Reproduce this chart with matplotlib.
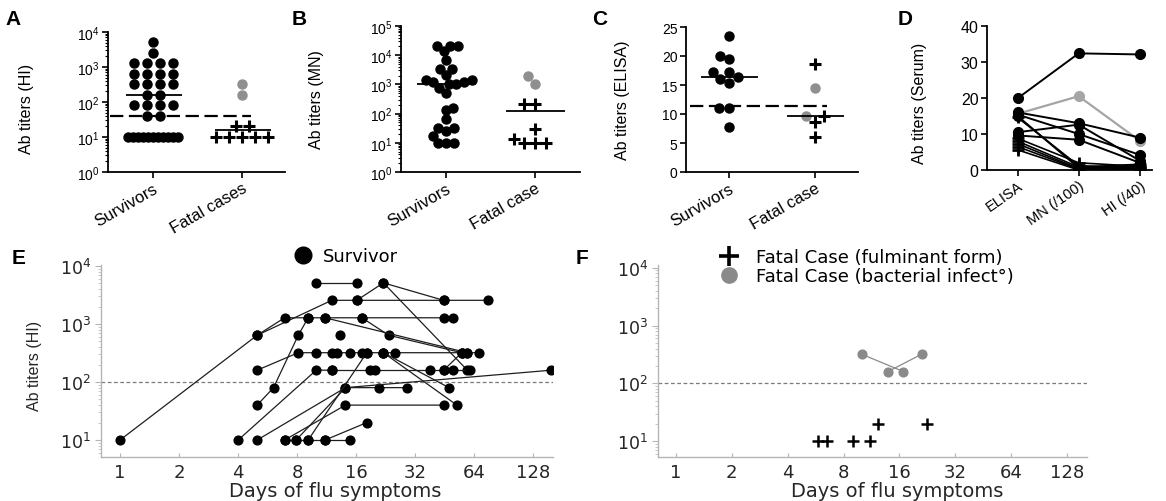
import numpy as np
import matplotlib
matplotlib.use("Agg")
import matplotlib.pyplot as plt
from matplotlib.ticker import LogLocator, LogFormatterMathtext, NullFormatter, NullLocator, FixedLocator
from matplotlib.lines import Line2D

# ---------------- data ----------------
# Panel A: HI titers
a_categories = ["Survivors", "Fatal cases"]
a_survivors = [5120, 2560, 1280, 1280, 1280, 1280, 640, 640, 640, 640, 320, 320, 320, 320,
               160, 160, 80, 80, 80, 80, 40, 40, 10, 10, 10, 10, 10, 10, 10, 10, 10, 10, 10]
a_fatal_bact = [320, 160]
a_fatal_fulm = [20, 20, 10, 10, 10, 10, 10]
a_medians = [160, 16]
a_threshold = 40

# Panel B: MN titers
b_categories = ["Survivors", "Fatal case"]
b_survivors = [20480, 20480, 20480, 14000, 7100, 3400, 3400, 2100, 1400, 1400, 1200, 1200,
               1000, 1000, 760, 510, 160, 130, 64, 31, 31, 25, 17, 10, 10, 10]
b_fatal_bact = [2000, 1000]
b_fatal_fulm = [210, 210, 29, 14, 10, 10, 10]
b_medians = [1000, 120]

# Panel C: ELISA titers
c_categories = ["Survivors", "Fatal case"]
c_survivors = [23.5, 20.0, 19.4, 17.3, 17.3, 16.3, 16.0, 15.4, 11.0, 11.0, 7.7]
c_fatal_bact = [14.4, 9.7]
c_fatal_fulm = [18.6, 9.7, 8.6, 6.0]
c_medians = [16.3, 9.7]
c_threshold = 11.3

# Panel D: serum titers per subject (ELISA, MN/100, HI/40)
d_categories = ["ELISA", "MN (/100)", "HI (/40)"]
d_elisa = [19.9, 15.6, 16.0, 15.4, 15.0, 14.6, 10.5, 9.6, 8.8, 8.0, 7.3, 6.5, 5.6]
d_mn    = [32.4, 20.5, 13.0, 10.0, 0.6, 1.2, 12.6, 8.4, 2.0, 0.8, 0.4, 0.2, 0.0]
d_hi    = [32.1, 8.1, 9.0, 4.2, 1.2, 0.6, 2.6, 2.0, 1.0, 1.6, 0.8, 0.4, 0.2]
d_group = ["s", "g", "s", "s", "s", "f", "s", "s", "f", "f", "f", "f", "f"]

# Panel E: survivors, HI titer vs days of flu symptoms (one list per patient)
e_days = [
    [1, 5, 12, 16.1, 44.6, 75.5],
    [10, 16.1],
    [16.1, 22, 44.6],
    [22, 58.9],
    [5, 6.9, 9.1, 11.1, 17.1, 44.6, 50],
    [17.1, 23.4, 55.2],
    [11.1, 58.9],
    [5, 6.06, 8.1, 9.1],
    [5, 8.1, 10, 12, 12.7, 14.9, 17.1, 18.1, 22, 25.3, 55.2, 58.9, 67.3],
    [13.2],
    [4, 10, 12],
    [12, 18.9, 20, 38.2, 44.6, 61.1],
    [44.6, 55.2],
    [50],
    [5, 14.1, 20.8, 29.1],
    [7.9, 14.1, 158],
    [22, 47.5],
    [22, 52.1],
    [6.9, 14.1, 44.6],
    [6.9, 7.9, 9.1, 11.1, 14.9],
    [11.1, 18.1],
    [9.1, 18.1],
]
e_titers = [
    [10, 640, 2560, 2560, 2560, 2560],
    [5120, 5120],
    [2560, 5120, 2560],
    [5120, 160],
    [640, 1280, 1280, 1280, 1280, 1280, 1280],
    [1280, 640, 320],
    [1280, 320],
    [40, 80, 640, 1280],
    [160, 320, 320, 320, 320, 320, 320, 320, 320, 320, 320, 320, 320],
    [640],
    [10, 160, 160],
    [160, 160, 160, 160, 160, 160],
    [160, 320],
    [160],
    [10, 80, 80, 80],
    [10, 80, 160],
    [320, 80],
    [320, 40],
    [10, 40, 40],
    [10, 10, 10, 10, 10],
    [10, 20],
    [10, 320],
]

# Panel F: fatal cases
f_fulm_days = [5.8, 6.5, 9.0, 11.1, 12.3, 22.5]
f_fulm_titers = [10, 10, 10, 10, 20, 20]
f_bact_days = [[10.0, 16.8], [13.9, 21.1]]
f_bact_titers = [[320, 160], [160, 320]]

day_ticks = [1, 2, 4, 8, 16, 32, 64, 128]
hi_threshold_ef = 100

# ---------------- layout helpers ----------------
W, H = 1166, 502
fig = plt.figure(figsize=(W / 100, H / 100), dpi=100)
ARIAL = "Liberation Sans"
WIDE = "DejaVu Sans"
plt.rcParams["font.family"] = [ARIAL, "DejaVu Sans"]
GRAY_PT = "#8f8f8f"


def px_axes(l, t, r, b):
    return fig.add_axes([l / W, 1 - b / H, (r - l) / W, (b - t) / H])


def row_layout(xc, vals, step, maxw):
    vals = np.asarray(vals, float)
    xs = np.full(len(vals), float(xc))
    for v in np.unique(vals):
        idx = np.where(vals == v)[0]
        n = len(idx)
        if n > 1:
            s = min(step, maxw / (n - 1))
            xs[idx] = xc + (np.arange(n) - (n - 1) / 2) * s
    return xs


def swarm(ax, xc, vals, diam, maxw=None):
    vals = np.asarray(vals, float)
    pts = ax.transData.transform(np.column_stack([np.full(len(vals), xc), vals]))
    ys = pts[:, 1]
    unit = ax.transData.transform([[xc + 1, vals[0]]])[0, 0] - pts[0, 0]
    placed = []
    offs = np.zeros(len(vals))
    for i in np.argsort(vals, kind="stable"):
        cands = [0.0]
        for (px, py) in placed:
            dy = ys[i] - py
            if abs(dy) < diam:
                dx = np.sqrt(diam ** 2 - dy ** 2)
                cands += [px - dx, px + dx]
        cands.sort(key=lambda c: (round(abs(c), 6), c))
        chosen = cands[0]
        for c in cands:
            if all((c - px) ** 2 + (ys[i] - py) ** 2 >= diam ** 2 - 1e-6 for px, py in placed):
                chosen = c
                break
        placed.append((chosen, ys[i]))
        offs[i] = chosen / unit
    if maxw is not None and np.abs(offs).max() > maxw:
        offs = offs * maxw / np.abs(offs).max()
    return xc + offs


def prism(ax):
    for s in ["top", "right"]:
        ax.spines[s].set_visible(False)
    for s in ["left", "bottom"]:
        ax.spines[s].set_linewidth(1.3)
        ax.spines[s].set_color("black")
    ax.tick_params(which="major", direction="out", length=4, width=1.2, labelsize=10, pad=2,
                   colors="black")
    ax.tick_params(which="minor", direction="out", length=2.5, width=0.8)
    ax.tick_params(axis="x", which="minor", length=0)


def log_y(ax, top):
    ax.set_yscale("log")
    ax.set_ylim(1, top)
    ax.yaxis.set_major_locator(LogLocator(base=10, numticks=12))
    ax.yaxis.set_minor_locator(LogLocator(base=10, subs=np.arange(2, 10), numticks=12))
    ax.yaxis.set_major_formatter(LogFormatterMathtext())
    ax.yaxis.set_minor_formatter(NullFormatter())


def cat_labels(ax, labels, size=12, rot=30):
    ax.set_xticks(range(len(labels)))
    ax.set_xticklabels(labels, rotation=rot, ha="right", rotation_mode="anchor", fontsize=size)


MS = 6.5
CROSS = dict(marker="+", ls="none", color="black", ms=9, mew=2.2)
DOT = dict(marker="o", ls="none", color="black", ms=MS, mec="black")
GDOT = dict(marker="o", ls="none", color=GRAY_PT, ms=MS, mec=GRAY_PT)
DASH = (0, (6, 2.5))

# ---------------- Panel A ----------------
axA = px_axes(108, 33, 285, 173)
prism(axA)
log_y(axA, 1e4)
axA.set_xlim(-0.506, 1.483)
axA.plot(row_layout(0, a_survivors, 13 / 89, 50 / 89), a_survivors, **DOT)
axA.plot(row_layout(1, a_fatal_bact, 13 / 89, 50 / 89), a_fatal_bact, **GDOT)
axA.plot(row_layout(1, a_fatal_fulm, 13 / 89, 52 / 89), a_fatal_fulm, **CROSS)
for i, m in enumerate(a_medians):
    axA.hlines(m, i - 0.3, i + 0.33, color="black", lw=1.3)
axA.hlines(a_threshold, -0.48, 1.1, color="black", lw=1.6, linestyles=[DASH])
cat_labels(axA, a_categories)
axA.set_ylabel("Ab titers (HI)", fontsize=11.5, va="center")
axA.yaxis.set_label_coords(-0.46, 0.46)

# ---------------- Panel B ----------------
axB = px_axes(401, 27, 580, 173)
prism(axB)
log_y(axB, 1e5)
axB.set_xlim(-0.506, 1.506)
axB.plot(swarm(axB, 0, b_survivors, 9, maxw=0.29), b_survivors, **DOT)
b_fatal_all = b_fatal_bact + b_fatal_fulm
xb = swarm(axB, 1, b_fatal_all, 11, maxw=0.25)
axB.plot(xb[:len(b_fatal_bact)], b_fatal_bact, **GDOT)
axB.plot(xb[len(b_fatal_bact):], b_fatal_fulm, **CROSS)
for i, m in enumerate(b_medians):
    axB.hlines(m, i - 0.33, i + 0.34, color="black", lw=1.3)
cat_labels(axB, b_categories)
axB.set_ylabel("Ab titers (MN)", fontsize=11.5, va="center")
axB.yaxis.set_label_coords(-0.47, 0.5)

# ---------------- Panel C ----------------
axC = px_axes(686, 28, 858, 173)
prism(axC)
axC.set_ylim(0, 25)
axC.set_yticks([0, 5, 10, 15, 20, 25])
axC.set_xlim(-0.5, 1.5)
axC.plot(swarm(axC, 0, c_survivors, 10, maxw=0.33), c_survivors, **DOT)
c_fatal_all = c_fatal_bact + c_fatal_fulm
xc = swarm(axC, 1, c_fatal_all, 11, maxw=0.25)
axC.plot(xc[:len(c_fatal_bact)], c_fatal_bact, **GDOT)
axC.plot(xc[len(c_fatal_bact):], c_fatal_fulm, **CROSS)
for i, m in enumerate(c_medians):
    axC.hlines(m, i - 0.33, i + 0.34, color="black", lw=1.3)
axC.hlines(c_threshold, -0.45, 1.14, color="black", lw=1.6, linestyles=[DASH])
cat_labels(axC, c_categories)
axC.set_ylabel("Ab titers (ELISA)", fontsize=11.5, va="center")
axC.yaxis.set_label_coords(-0.37, 0.5)

# ---------------- Panel D ----------------
axD = px_axes(987, 27, 1152, 171)
prism(axD)
axD.set_ylim(0, 40)
axD.set_yticks([0, 10, 20, 30, 40])
axD.set_xlim(-0.5, 2.2)
xd = np.arange(len(d_categories))
order = [i for i, g in enumerate(d_group) if g == "g"] + \
        [i for i, g in enumerate(d_group) if g == "f"] + \
        [i for i, g in enumerate(d_group) if g == "s"]
for i in order:
    vals = [d_elisa[i], d_mn[i], d_hi[i]]
    g = d_group[i]
    if g == "g":
        axD.plot(xd, vals, "-o", color="#a5a5a5", lw=1.6, ms=MS + 0.5, mec="#a5a5a5")
    elif g == "s":
        axD.plot(xd, vals, "-o", color="black", lw=1.4, ms=MS + 0.5, mec="black")
    else:
        axD.plot(xd, vals, "-+", color="black", lw=1.2, ms=9, mew=2)
cat_labels(axD, d_categories, size=10.5, rot=35)
axD.tick_params(axis="y", labelsize=11.5)
axD.set_ylabel("Ab titers (Serum)", fontsize=11.5, va="center")
axD.yaxis.set_label_coords(-0.41, 0.47)


# ---------------- Panels E & F ----------------
def gray_log(ax, ylim, xlim):
    ax.set_xscale("log", base=2)
    ax.set_yscale("log")
    ax.set_xlim(*xlim)
    ax.set_ylim(*ylim)
    for s in ["top", "right"]:
        ax.spines[s].set_visible(False)
    for s in ["left", "bottom"]:
        ax.spines[s].set_color("#b5b5b5")
        ax.spines[s].set_linewidth(1.0)
    ax.xaxis.set_major_locator(FixedLocator(day_ticks))
    ax.set_xticklabels([str(d) for d in day_ticks])
    ax.xaxis.set_minor_locator(NullLocator())
    ax.yaxis.set_major_locator(FixedLocator([10, 100, 1000, 10000]))
    ax.yaxis.set_minor_locator(LogLocator(base=10, subs=np.arange(2, 10), numticks=12))
    ax.yaxis.set_major_formatter(LogFormatterMathtext())
    ax.yaxis.set_minor_formatter(NullFormatter())
    ax.tick_params(axis="x", which="major", direction="in", length=3, width=0.8,
                   color="#b5b5b5", labelsize=13, labelcolor="#262626", pad=4,
                   labelfontfamily=WIDE)
    ax.tick_params(axis="y", which="major", direction="out", length=4, width=0.8,
                   color="#b5b5b5", labelsize=12.5, labelcolor="#262626", pad=3,
                   labelfontfamily=WIDE)
    ax.tick_params(axis="y", which="minor", direction="out", length=2.5, width=0.6,
                   color="#c0c0c0")
    ax.axhline(hi_threshold_ef, color="#7a7a7a", lw=0.9, ls=(0, (3, 2)))
    ax.set_xlabel("Days of flu symptoms", fontsize=14, family=WIDE, color="#262626",
                  va="center")


axE = px_axes(101, 266, 553, 458)
gray_log(axE, (5.1, 10400), (0.80, 161))
for d, t in zip(e_days, e_titers):
    axE.plot(d, t, "-o", color="#1e1e1e", lw=0.9, ms=6.3, mfc="black", mec="black")
axE.set_ylabel("Ab titers (HI)", fontsize=11.5, color="#262626", va="center")
axE.yaxis.set_label_coords(-0.147, 0.48)
axE.xaxis.set_label_coords(0.518, -0.177)
axE.legend([Line2D([], [], marker="o", ls="none", color="black", ms=12)], ["Survivor"],
           loc="upper left", bbox_to_anchor=(294 / W, 1 - 248 / H), bbox_transform=fig.transFigure,
           frameon=False, prop={"family": WIDE, "size": 13}, handlelength=1.0,
           handletextpad=0.6, borderpad=0, borderaxespad=0)

axF = px_axes(658, 266, 1087, 458)
gray_log(axF, (5.3, 11200), (0.80, 164))
for d, t in zip(f_bact_days, f_bact_titers):
    axF.plot(d, t, "-o", color="#8a8a8a", lw=0.9, ms=6.3, mfc="#8a8a8a", mec="#8a8a8a")
axF.plot(f_fulm_days, f_fulm_titers, marker="+", ls="none", color="black", ms=9, mew=1.8)
axF.xaxis.set_label_coords(0.557, -0.177)
axF.legend([Line2D([], [], marker="+", ls="none", color="black", ms=15, mew=2.6),
            Line2D([], [], marker="o", ls="none", color="#8a8a8a", ms=11)],
           ["Fatal Case (fulminant form)", "Fatal Case (bacterial infect°)"],
           loc="upper left", bbox_to_anchor=(716 / W, 1 - 249 / H), bbox_transform=fig.transFigure,
           frameon=False, prop={"family": WIDE, "size": 13}, handlelength=1.4,
           handletextpad=0.8, labelspacing=0.05, borderpad=0, borderaxespad=0)

# ---------------- panel letters ----------------
for letter, x, y in [("A", 5, 25), ("B", 292, 25), ("C", 592, 25), ("D", 898, 25),
                     ("E", 12, 264), ("F", 576, 264)]:
    fig.text(x / W, 1 - y / H, letter, fontsize=15, fontweight="bold", family=ARIAL,
             va="baseline", ha="left")

fig.savefig("out.png", dpi=100)
